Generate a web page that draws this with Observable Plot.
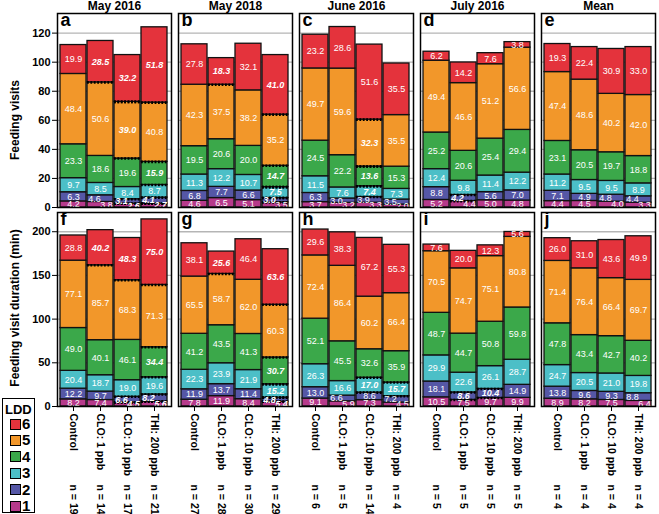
<!DOCTYPE html>
<html><head><meta charset="utf-8">
<script src="https://cdn.jsdelivr.net/npm/d3@7"></script>
<script src="https://cdn.jsdelivr.net/npm/@observablehq/plot@0.6"></script>
<style>
body{margin:0;background:#fff;font-family:"Liberation Sans",Arial,sans-serif;}
#wrap{position:relative;width:659px;height:514px;overflow:hidden;background:#fff;}
#top{position:absolute;left:0;top:0;}
#bot{position:absolute;left:0;top:210px;}
.ytitle{position:absolute;font-weight:bold;font-size:12px;white-space:nowrap;transform:translate(-50%,-50%) rotate(-90deg);}
#legend{position:absolute;left:2px;top:398px;width:33px;height:115px;border:1.5px solid #000;box-sizing:border-box;background:#fff;}
#legend .t{position:absolute;left:2px;top:3px;font-weight:bold;font-size:13px;}
#legend .sq{position:absolute;left:7px;width:9px;height:9px;border:1px solid #000;}
#legend .lb{position:absolute;left:19px;font-weight:bold;font-size:15px;line-height:15px;}
</style></head>
<body><div id="wrap"><div id="top"></div><div id="bot"></div>
<div class="ytitle" style="left:15px;top:120px">Feeding visits</div>
<div class="ytitle" style="left:15px;top:308px">Feeding visit duration (min)</div>
<div id="legend"></div></div>
<script>
// ---------- data ----------
const panelsTop = ["a","b","c","d","e"];
const panelsBot = ["f","g","h","i","j"];
const months = ["May 2016","May 2018","June 2016","July 2016","Mean"];
const treatments = ["Control","CLO: 1 ppb","CLO: 10 ppb","THI: 200 ppb"];
const lddLevels = [1,2,3,4,5,6];

// values per treatment, LDD 1..6
const visits_a = [[4.2,6.3,9.7,23.3,48.4,19.9],[3.8,4.6,8.5,18.6,50.6,28.5],[2.6,3.1,8.4,19.6,39.0,32.2],[2.7,4.1,8.7,15.9,40.8,51.8]];
const visits_b = [[4.6,6.8,11.3,19.5,42.3,27.8],[6.5,7.7,12.2,20.6,37.5,18.3],[5.1,6.6,10.7,20.0,38.2,32.1],[3.5,3.0,7.5,14.7,35.2,41.0]];
const visits_c = [[3.7,6.3,11.5,24.5,49.7,23.2],[3.2,3.0,7.6,22.2,59.6,28.6],[3.3,3.9,7.4,13.6,32.3,51.6],[2.0,3.5,7.3,15.3,35.5,35.5]];
const visits_d = [[5.2,8.8,12.4,25.2,49.4,6.2],[4.4,4.2,9.8,20.6,46.6,14.2],[5.0,5.6,11.4,25.4,51.2,7.6],[4.8,7.0,12.2,29.4,56.6,3.8]];
const visits_e = [[4.4,7.1,11.2,23.1,47.4,19.3],[4.5,4.9,9.5,20.5,48.6,22.4],[4.0,4.8,9.5,19.7,40.2,30.9],[3.3,4.4,8.9,18.8,42.0,33.0]];

const duration_f = [[8.2,12.2,20.4,49.0,77.1,28.8],[7.4,9.7,18.7,40.1,85.7,40.2],[4.5,6.6,19.0,46.1,68.3,48.3],[5.6,8.2,19.6,34.4,71.3,75.0]];
const duration_g = [[7.8,11.9,22.3,41.2,65.5,38.1],[11.9,13.7,23.9,43.5,58.7,25.6],[8.4,11.4,21.9,41.3,62.0,46.4],[5.4,4.8,15.2,30.7,60.3,63.6]];
const duration_h = [[9.1,13.0,26.3,52.1,72.4,29.6],[5.9,6.6,16.6,45.5,86.4,38.3],[7.3,8.6,17.0,32.6,60.2,67.2],[4.5,7.2,15.7,35.9,66.4,55.3]];
const duration_i = [[10.5,18.1,29.9,48.7,70.5,7.6],[7.5,8.6,22.6,44.7,74.7,20.0],[9.7,10.4,26.1,50.8,75.1,12.3],[9.9,14.9,28.7,59.8,80.8,5.6]];
const duration_j = [[8.9,13.8,24.7,47.8,71.4,26.0],[8.2,9.6,20.5,43.4,76.4,31.0],[7.5,9.3,21.0,42.7,66.4,43.6],[6.4,8.8,19.8,40.2,69.7,49.9]];

// significant LDD classes per treatment (bold italic labels)
const sig_a = [[],[6],[6,5,2,1],[6,4,2,1]];
const sig_b = [[],[6],[],[6,4,3,2]];
const sig_c = [[],[],[5,4,3],[]];
const sig_d = [[],[2],[],[]];
const sig_e = [[],[],[],[]];
const sig_f = [[],[6],[6,2,1],[6,4,2,1]];
const sig_g = [[],[6],[],[6,4,3,2,1]];
const sig_h = [[],[],[3],[3]];
const sig_i = [[],[2],[2],[]];
const sig_j = [[],[],[],[]];

// sample sizes per column
const n_a = [19,14,17,21];
const n_b = [27,28,30,29];
const n_c = [6,5,14,4];
const n_d = [5,5,5,5];
const n_e = [4,4,4,4];

const ticksTop = [0,20,40,60,80,100,120];
const ticksBot = [0,50,100,150,200];

// ---------- styles ----------
const colors = ["#b63a8b","#5557a6","#4cbfc7","#3ba84a","#f2972a","#e4333c"];
const FONT = "Liberation Sans, Arial, Helvetica, sans-serif";

function buildRows(panels, sets, sigs, k) {
  const rows = [];
  panels.forEach((p, pi) => {
    sets[pi].forEach((vals, ti) => {
      let cum = 0;
      const small = (vals[0] + vals[1]) * k < 13.4;
      vals.forEach((v, li) => {
        const l = lddLevels[li];
        let dx = 0;
        if (small && l === 1) dx = 6;
        if (small && l === 2) dx = -6;
        rows.push({panel: p, treatment: treatments[ti], ldd: l, value: v,
          y1: cum, y2: cum + v, sig: sigs[pi][ti].includes(l),
          top: li === vals.length - 1, dx});
        cum += v;
      });
    });
  });
  return rows;
}

function makeChart({panels, sets, sigs, yMax, ticks, height, marginTop, marginBottom, isTop}) {
  const plotH = height - marginTop - marginBottom;
  const k = plotH / yMax;
  const rows = buildRows(panels, sets, sigs, k);
  const dash = [];
  rows.forEach(r => {
    if (!r.sig) return;
    if (r.y1 > 0) dash.push({...r, yy: r.y1});
    if (!r.top) dash.push({...r, yy: r.y2});
  });
  const marks = [
    Plot.gridY(ticks.filter(t => t > 0), {stroke: "#b5b5b5", strokeOpacity: 1, strokeWidth: 1.3}),
    Plot.barY(rows, {fx: "panel", x: "treatment", y1: "y1", y2: "y2", fill: "ldd",
      stroke: "#111", strokeWidth: 1.3}),
    Plot.tickY(dash, {fx: "panel", x: "treatment", y: "yy", stroke: "#000",
      strokeWidth: 2.6, strokeDasharray: "1.8,1.6"})
  ];
  for (const bold of [false, true]) {
    for (const dx of [-6, 0, 6]) {
      const sub = rows.filter(r => r.sig === bold && r.dx === dx);
      if (!sub.length) continue;
      marks.push(Plot.text(sub, {fx: "panel", x: "treatment", y: r => (r.y1 + r.y2) / 2,
        text: r => r.value.toFixed(1), fill: "#fff", fontSize: 9, dx,
        fontWeight: bold ? "bold" : "normal", fontStyle: bold ? "italic" : "normal"}));
    }
  }
  marks.push(Plot.frame({stroke: "#000", strokeWidth: 1.5}));
  marks.push(Plot.text(panels, {fx: d => d, text: d => d, frameAnchor: "top-left",
    dx: 3, dy: 0, fontSize: 18, fontWeight: "bold", fill: "#000"}));
  marks.push(Plot.axisY({ticks, tickSize: 5, tickPadding: 2, fontSize: 11, fontWeight: "bold",
    label: null, facetAnchor: "left"}));
  if (isTop) {
    marks.push(Plot.text(panels.map((p, i) => ({p, m: months[i]})), {fx: "p", text: "m",
      frameAnchor: "top", lineAnchor: "bottom", dy: -4, fontSize: 12, fontWeight: "bold"}));
  } else {
    marks.push(Plot.axisX({tickRotate: 90, tickSize: 5, tickPadding: 2, fontSize: 10.5,
      fontWeight: "bold", label: null}));
    const nSets = [n_a, n_b, n_c, n_d, n_e];
    const nRows = [];
    panels.forEach((p, pi) => treatments.forEach((t, ti) =>
      nRows.push({panel: p, treatment: t, n: nSets[pi][ti]})));
    marks.push(Plot.text(nRows, {fx: "panel", x: "treatment", text: d => "n = " + d.n,
      frameAnchor: "bottom", dy: 78, rotate: 90, textAnchor: "start", lineAnchor: "middle",
      fontSize: 10.5, fontWeight: "bold"}));
  }
  return Plot.plot({
    width: 659, height, marginTop, marginBottom, marginLeft: 56, marginRight: 3,
    style: {fontFamily: FONT, background: "transparent", overflow: "visible"},
    fx: {domain: panels, paddingInner: 0.058, paddingOuter: 0, axis: null},
    x: {domain: treatments, paddingInner: 0.03, paddingOuter: 0.08, axis: null},
    y: {domain: [0, yMax], axis: null},
    color: {type: "ordinal", domain: lddLevels, range: colors},
    marks
  });
}

document.getElementById("top").append(makeChart({
  panels: panelsTop, sets: [visits_a, visits_b, visits_c, visits_d, visits_e],
  sigs: [sig_a, sig_b, sig_c, sig_d, sig_e], yMax: 133.5, ticks: ticksTop,
  height: 210, marginTop: 13, marginBottom: 3, isTop: true}));

document.getElementById("bot").append(makeChart({
  panels: panelsBot, sets: [duration_f, duration_g, duration_h, duration_i, duration_j],
  sigs: [sig_f, sig_g, sig_h, sig_i, sig_j], yMax: 222, ticks: ticksBot,
  height: 304, marginTop: 2, marginBottom: 108, isTop: false}));

// legend
const lg = document.getElementById("legend");
const t = document.createElement("div"); t.className = "t"; t.textContent = "LDD"; lg.append(t);
[6,5,4,3,2,1].forEach((l, i) => {
  const cy = 25 + i * 16.4;
  const sq = document.createElement("div"); sq.className = "sq";
  sq.style.top = (cy - 5.5) + "px"; sq.style.background = colors[lddLevels.indexOf(l)];
  const lb = document.createElement("div"); lb.className = "lb";
  lb.style.top = (cy - 8) + "px"; lb.textContent = l;
  lg.append(sq, lb);
});
</script>
</body></html>
